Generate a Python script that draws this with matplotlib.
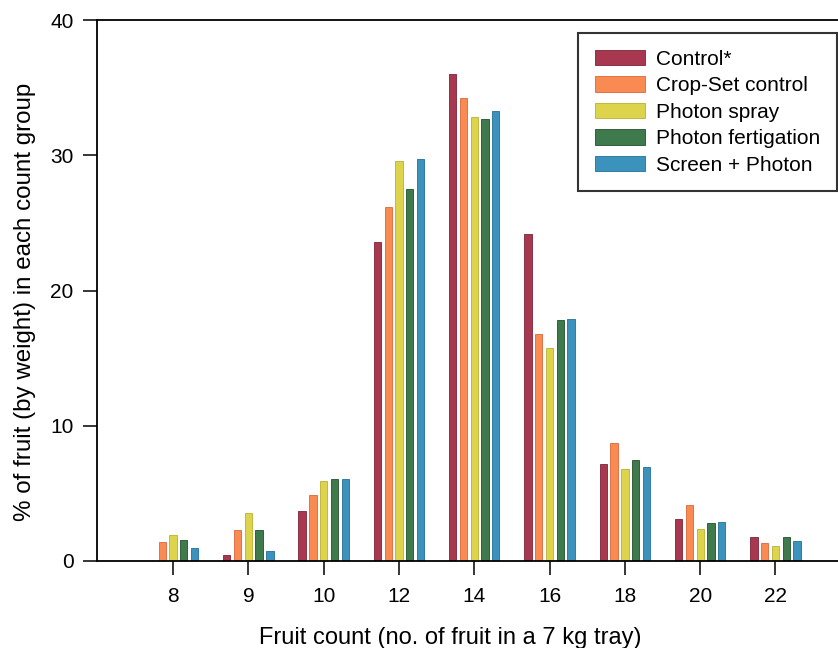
import matplotlib
matplotlib.use("Agg")
import matplotlib.pyplot as plt
import numpy as np

plt.rcParams['font.family'] = ['Liberation Sans', 'DejaVu Sans']

categories = ["8", "9", "10", "12", "14", "16", "18", "20", "22"]
series_names = ["Control*", "Crop-Set control", "Photon spray", "Photon fertigation", "Screen + Photon"]
control = [0.0, 0.42, 3.69, 23.6, 36.0, 24.2, 7.2, 3.1, 1.75]
cropset = [1.38, 2.31, 4.89, 26.2, 34.2, 16.8, 8.7, 4.15, 1.35]
spray = [1.94, 3.54, 5.9, 29.6, 32.85, 15.75, 6.82, 2.37, 1.1]
fertig = [1.55, 2.29, 6.05, 27.5, 32.7, 17.8, 7.5, 2.8, 1.8]
screen = [0.98, 0.76, 6.05, 29.7, 33.3, 17.9, 6.96, 2.86, 1.48]
colors = ["#A8384F", "#F98B52", "#DDD44C", "#3F7A4C", "#3B93BD"]
edges = ["#7E2236", "#D9663A", "#B9B02E", "#22502E", "#226F96"]

fig = plt.figure(figsize=(8.38, 6.48), dpi=100)
W, H = 838, 648
ax = fig.add_axes([97 / W, (H - 561) / H, (838 - 97) / W, (561 - 20) / H])

x = np.arange(len(categories))
pitch = 0.143
width = 0.097
data = [control, cropset, spray, fertig, screen]
for i, (vals, c, e, name) in enumerate(zip(data, colors, edges, series_names)):
    ax.bar(x + (i - 2) * pitch, vals, width=width, color=c, edgecolor=e,
           linewidth=0.6, label=name)

ax.set_xlim(-1.01, 8.83)
ax.set_ylim(0, 40)
ax.set_xticks(x)
ax.set_xticklabels(categories)
ax.set_yticks([0, 10, 20, 30, 40])
ax.tick_params(axis='both', direction='out', length=10, width=1.1, labelsize=15, pad=7)
ax.tick_params(axis='x', pad=9)
for s in ['left', 'bottom', 'top']:
    ax.spines[s].set_linewidth(1.3)
ax.spines['right'].set_visible(False)

ax.set_xlabel("Fruit count (no. of fruit in a 7 kg tray)", fontsize=17)
ax.xaxis.set_label_coords((450 - 97) / 741, (561 - 627) / 541)
ax.set_ylabel("% of fruit (by weight) in each count group", fontsize=17.4)
ax.yaxis.set_label_coords((36 - 97) / 741, (561 - 301.5) / 541)

leg = ax.legend(loc='upper left', bbox_to_anchor=(578 / W, 1 - 33 / H),
                bbox_transform=fig.transFigure, fontsize=15, frameon=True,
                fancybox=False, handlelength=2.4, handleheight=0.77,
                handletextpad=0.55, labelspacing=0.36, borderpad=0.8,
                borderaxespad=0)
leg.get_frame().set_edgecolor('black')
leg.get_frame().set_linewidth(1.5)

fig.savefig("out.png", dpi=100)
